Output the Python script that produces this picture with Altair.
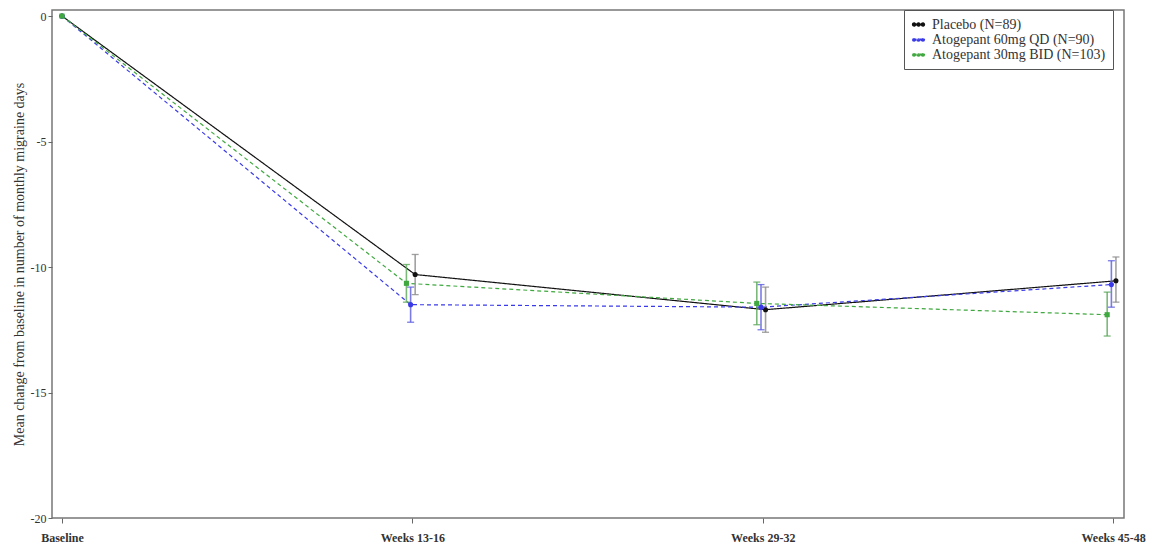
import altair as alt
import pandas as pd

visits = ["Baseline", "Weeks 13-16", "Weeks 29-32", "Weeks 45-48"]
groups = ["Placebo (N=89)", "Atogepant 60mg QD (N=90)", "Atogepant 30mg BID (N=103)"]

placebo_mean = [0.0, -10.3, -11.7, -10.55]
placebo_lo = [0.0, -11.1, -12.6, -11.4]
placebo_hi = [0.0, -9.5, -10.8, -9.6]

qd_mean = [0.0, -11.5, -11.6, -10.7]
qd_lo = [0.0, -12.2, -12.5, -11.6]
qd_hi = [0.0, -10.8, -10.7, -9.75]

bid_mean = [0.0, -10.65, -11.45, -11.9]
bid_lo = [0.0, -11.4, -12.3, -12.75]
bid_hi = [0.0, -9.9, -10.6, -11.0]

colors = ["#111111", "#3a3ae8", "#3fa83f"]
bar_colors = ["#8a8a8a", "#5a5ae0", "#5aa85a"]
point_shapes = ["circle", "circle", "square"]
offsets = [0.008, -0.005, -0.017]

rows = []
for g, m, lo, hi, off in zip(groups,
                             [placebo_mean, qd_mean, bid_mean],
                             [placebo_lo, qd_lo, bid_lo],
                             [placebo_hi, qd_hi, bid_hi],
                             offsets):
    for i, v in enumerate(visits):
        rows.append({
            "group": g,
            "visit": v,
            "x": i + (off if i > 0 else 0.0),
            "mean": m[i],
            "lo": lo[i] if i > 0 else None,
            "hi": hi[i] if i > 0 else None,
        })
df = pd.DataFrame(rows)
df_err = df[df["lo"].notna()]

label_expr = "[" + ",".join("'" + v + "'" for v in visits) + "][datum.value]"

x_enc = alt.X("x:Q",
              scale=alt.Scale(domain=[-0.0285, 3.031], nice=False, zero=False),
              axis=alt.Axis(values=[0, 1, 2, 3], labelExpr=label_expr, title=None,
                            grid=False, tickSize=5, labelPadding=9,
                            labelFontWeight="bold", labelFontSize=12,
                            domain=False))
y_scale = alt.Scale(domain=[-20, 0.24], nice=False, zero=False)
y_enc = alt.Y("mean:Q", scale=y_scale,
              axis=alt.Axis(values=[0, -5, -10, -15, -20], grid=False, tickSize=4,
                            labelExpr="datum.value == 0 ? '0' : '-' + abs(datum.value)",
                            title="Mean change from baseline in number of monthly migraine days",
                            titleFontSize=14, titleFontWeight="normal", labelFontSize=12,
                            titlePadding=4, domain=False))

# three dots on a line
def circ(cx, r=0.2):
    return f"M{cx - r},0a{r},{r} 0 1,0 {2 * r},0a{r},{r} 0 1,0 {-2 * r},0"

legend_path = "M-1,0H1" + circ(-0.72) + circ(0) + circ(0.72)

color = alt.Color("group:N", scale=alt.Scale(domain=groups, range=colors),
                  legend=alt.Legend(title=None, orient="none", legendX=852, legendY=0,
                                    labelFont="Liberation Serif", labelFontSize=14,
                                    strokeColor="#555555", fillColor="white",
                                    padding=7, rowPadding=0, symbolSize=150,
                                    symbolType=legend_path,
                                    symbolStrokeWidth=2, labelLimit=400,
                                    labelOffset=6, labelColor="#333333",
                                    offset=0))

lines = alt.Chart(df).mark_line(strokeWidth=1.2).encode(
    x=x_enc, y=y_enc, color=color,
    strokeDash=alt.StrokeDash("group:N",
                              scale=alt.Scale(domain=groups, range=[[1, 0], [4, 3], [4, 3]]),
                              legend=None))

rules = alt.Chart(df_err).mark_rule(strokeWidth=1.6, opacity=0.8).encode(
    x="x:Q", y=alt.Y("lo:Q", scale=y_scale), y2="hi:Q",
    stroke=alt.Stroke("group:N", scale=alt.Scale(domain=groups, range=bar_colors), legend=None))
caps_lo = alt.Chart(df_err).mark_tick(size=7, thickness=1.3, orient="horizontal", opacity=0.8).encode(
    x="x:Q", y=alt.Y("lo:Q", scale=y_scale),
    fill=alt.Fill("group:N", scale=alt.Scale(domain=groups, range=bar_colors), legend=None))
caps_hi = alt.Chart(df_err).mark_tick(size=7, thickness=1.3, orient="horizontal", opacity=0.8).encode(
    x="x:Q", y=alt.Y("hi:Q", scale=y_scale),
    fill=alt.Fill("group:N", scale=alt.Scale(domain=groups, range=bar_colors), legend=None))

point_layers = []
for g, c, s in zip(groups, colors, point_shapes):
    point_layers.append(
        alt.Chart(df).transform_filter(alt.datum.group == g).mark_point(
            filled=True, size=26, opacity=1, shape=s, color=c).encode(
            x="x:Q", y="mean:Q"))

chart = alt.layer(lines, rules, caps_lo, caps_hi, *point_layers).properties(
    width=1072, height=508,
    autosize=alt.AutoSizeParams(type="none"),
    padding={"left": 44, "top": 2, "right": 26, "bottom": 26},
).configure(font="Liberation Serif").configure_view(
    stroke="#777777", strokeWidth=1.5
).configure_axis(
    labelFont="Liberation Serif", titleFont="Liberation Serif",
    labelColor="#333333", titleColor="#333333", tickColor="#666666"
)

chart.save("out.html", embed_options={"renderer": "svg", "actions": False})
